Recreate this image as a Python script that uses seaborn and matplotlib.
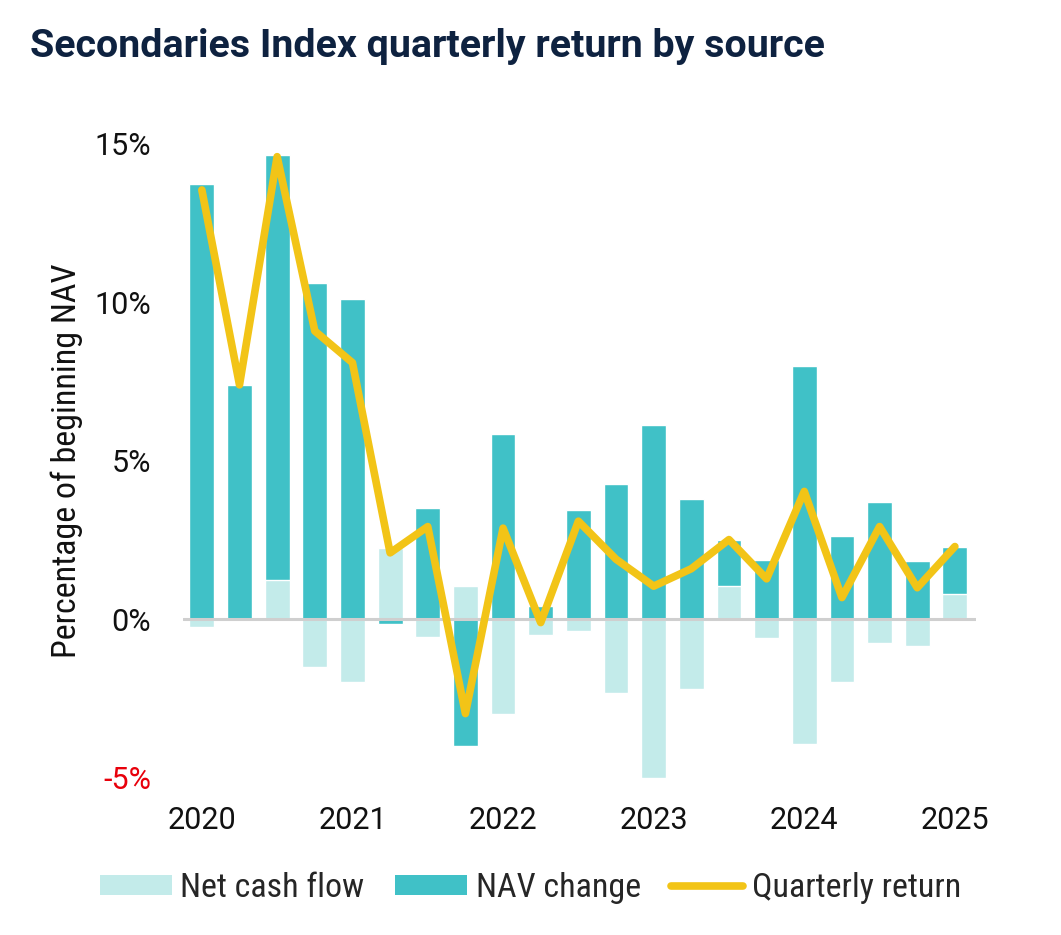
import seaborn as sns
import matplotlib.pyplot as plt
from matplotlib.patches import Patch
from matplotlib.lines import Line2D

quarters = ['2020Q1', '2020Q2', '2020Q3', '2020Q4', '2021Q1', '2021Q2', '2021Q3', '2021Q4',
            '2022Q1', '2022Q2', '2022Q3', '2022Q4', '2023Q1', '2023Q2', '2023Q3', '2023Q4',
            '2024Q1', '2024Q2', '2024Q3', '2024Q4', '2025Q1']
nav_change = [13.75, 7.41, 13.41, 10.6, 10.1, -0.13, 3.5, -4.0, 5.84, 0.41, 3.44,
              4.26, 6.12, 3.79, 1.46, 1.86, 7.98, 2.62, 3.69, 1.83, 1.51]
net_cash_flow = [-0.25, 0.0, 1.23, -1.5, -1.96, 2.24, -0.55, 1.07, -2.97, -0.5, -0.35,
                 -2.33, -5.0, -2.18, 1.04, -0.6, -3.94, -1.96, -0.73, -0.85, 0.79]
quarterly_return = [13.55, 7.4, 14.6, 9.1, 8.1, 2.1, 2.93, -2.97, 2.88, -0.1, 3.1,
                    1.9, 1.05, 1.6, 2.52, 1.28, 4.04, 0.69, 2.93, 1.0, 2.3]
year_labels = ['2020', '2021', '2022', '2023', '2024', '2025']
y_ticks = [-5, 0, 5, 10, 15]

c_cash = '#c3ebea'
c_nav = '#40c1c7'
c_ret = '#f2c417'
c_title = '#0e2240'

sns.set_theme(style='white')
plt.rcParams['font.family'] = ['Roboto', 'DejaVu Sans']
narrow = ['Roboto Condensed', 'Roboto', 'DejaVu Sans']

fig = plt.figure(figsize=(10.61, 9.35), dpi=100)
ax = fig.add_axes([0.1725, 0.168, 0.747, 0.678])

# stacked: same-sign parts pile up, cash flow sits at the base
nav_top = [n + c if (n > 0 and c > 0) or (n < 0 and c < 0) else n
           for n, c in zip(nav_change, net_cash_flow)]
sns.barplot(x=quarters, y=nav_top, color=c_nav, width=0.66, saturation=1, ax=ax, zorder=2)
sns.barplot(x=quarters, y=net_cash_flow, color=c_cash, width=0.66, saturation=1, ax=ax, zorder=3)
ax.axhline(0, color='#cfcfcf', lw=2.2, zorder=4)
sns.lineplot(x=list(range(len(quarters))), y=quarterly_return, color=c_ret, lw=5.5,
             ax=ax, zorder=5, solid_joinstyle='round', solid_capstyle='round', clip_on=False)

ax.set_xlim(-0.5, 20.55)
ax.set_ylim(-5, 15)
ax.set_xticks(range(0, len(quarters), 4))
ax.set_xticklabels(year_labels, fontsize=22, color='#111111')
ax.set_yticks(y_ticks)
ax.set_yticklabels([f'{v}%' for v in y_ticks], fontsize=22, color='#111111')
ax.get_yticklabels()[0].set_color('#e8000b')
ax.tick_params(axis='y', length=0, pad=23)
ax.tick_params(axis='x', length=0, pad=20)
for s in ax.spines.values():
    s.set_visible(False)
ax.set_xlabel('')
ax.set_ylabel('Percentage of beginning NAV', fontsize=24.5, family=narrow, color='#111111', labelpad=8)

fig.text(0.028, 0.95, 'Secondaries Index quarterly return by source', fontsize=28.4,
         fontweight='bold', color=c_title, ha='left', va='center')

handles = [Patch(facecolor=c_cash, edgecolor='none'),
           Patch(facecolor=c_nav, edgecolor='none'),
           Line2D([0], [0], color=c_ret, lw=5.5)]
fig.legend(handles, ['Net cash flow', 'NAV change', 'Quarterly return'], loc='center',
           bbox_to_anchor=(0.5, 0.05), ncol=3, frameon=False, handlelength=2.1,
           handleheight=0.5, handletextpad=0.26, columnspacing=0.9,
           prop={'family': narrow, 'size': 24.5})

fig.savefig('out.png', dpi=100)
